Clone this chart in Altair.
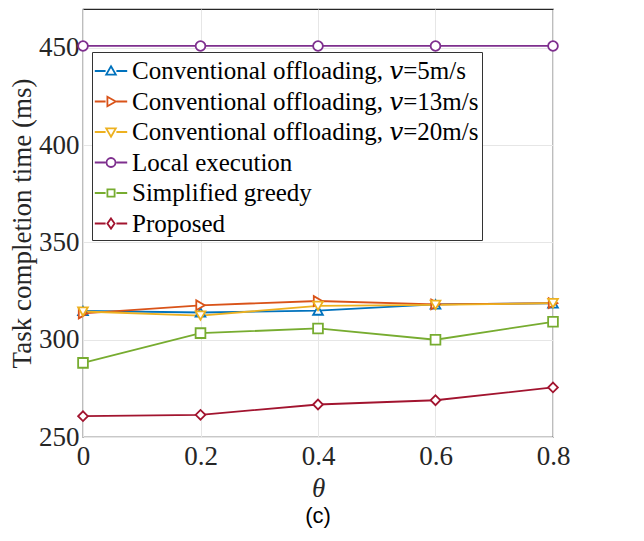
import altair as alt
import pandas as pd

theta = [0, 0.2, 0.4, 0.6, 0.8]
series_names = [
    "Conventional offloading, 𝑣=5m/s",
    "Conventional offloading, 𝑣=13m/s",
    "Conventional offloading, 𝑣=20m/s",
    "Local execution",
    "Simplified greedy",
    "Proposed",
]
conv_5 = [314.8, 314.0, 315.0, 318.2, 318.7]
conv_13 = [313.5, 317.7, 319.9, 318.2, 318.8]
conv_20 = [314.5, 312.4, 317.4, 317.9, 318.8]
local_exec = [451.0, 451.0, 451.0, 451.0, 451.0]
greedy = [288.1, 303.4, 305.8, 300.0, 309.2]
proposed = [260.7, 261.4, 266.7, 268.9, 275.5]

colors = ["#0072BD", "#D95319", "#EDB120", "#7E2F8E", "#77AC30", "#A2142F"]
marker_shapes = ["triangle-up", "triangle-right", "triangle-down", "circle", "square", "diamond"]
marker_sizes = [95, 95, 95, 80, 64, 80]
gap = "M-1.08,0H-0.36M0.36,0H1.08"
legend_shapes = [
    gap + "M0,-0.32L0.32,0.24L-0.32,0.24Z",
    gap + "M0.32,0L-0.24,-0.32L-0.24,0.32Z",
    gap + "M0,0.32L0.32,-0.24L-0.32,-0.24Z",
    gap + "M0.3,0A0.3,0.3 0 1 1 -0.3,0A0.3,0.3 0 1 1 0.3,0Z",
    gap + "M-0.24,-0.24H0.24V0.24H-0.24Z",
    gap + "M0,-0.34L0.24,0L0,0.34L-0.24,0Z",
]

all_vals = [conv_5, conv_13, conv_20, local_exec, greedy, proposed]
rows = []
for i, (name, vals) in enumerate(zip(series_names, all_vals)):
    for t, v in zip(theta, vals):
        rows.append({"theta": t, "time": v, "series": name, "series_l": name, "order": i})
df = pd.DataFrame(rows)

FONT = "Times New Roman, Liberation Serif, DejaVu Serif, serif"

x = alt.X("theta:Q", title="θ",
          scale=alt.Scale(domain=[0, 0.8], nice=False),
          axis=alt.Axis(values=theta, format="~g", labelFontSize=27, titleFontSize=27,
                        labelFont=FONT, titleFont=FONT, labelFlush=False,
                        titleFontStyle="italic", titleFontWeight="normal",
                        labelPadding=6, titlePadding=6))
y = alt.Y("time:Q", title="Task completion time (ms)",
          scale=alt.Scale(domain=[250, 470], nice=False),
          axis=alt.Axis(values=[250, 300, 350, 400, 450], labelFontSize=27, titleFontSize=27,
                        labelFont=FONT, titleFont=FONT, labelFlush=False,
                        titleFontWeight="normal", labelPadding=4, titlePadding=2))

color_scale = alt.Scale(domain=series_names, range=colors)

lines = alt.Chart(df).mark_line(strokeWidth=1.8).encode(
    x=x, y=y,
    color=alt.Color("series:N", scale=color_scale, legend=None),
    detail="series:N",
    order="order:Q",
)

points = alt.Chart(df).mark_point(filled=False, fill="white", fillOpacity=1, strokeWidth=1.8, opacity=1).encode(
    x=x, y=y,
    color=alt.Color("series:N", scale=color_scale, legend=None),
    shape=alt.Shape("series:N", scale=alt.Scale(domain=series_names, range=marker_shapes), legend=None),
    size=alt.Size("series:N", scale=alt.Scale(domain=series_names, range=marker_sizes), legend=None),
    order="order:Q",
)

legend_layer = alt.Chart(df).transform_filter("datum.theta < -1").mark_point(
    filled=False, size=900, strokeWidth=1.8, opacity=1
).encode(
    x=x, y=y,
    color=alt.Color("series_l:N", scale=alt.Scale(domain=series_names, range=colors),
                    legend=alt.Legend(title=None, orient="none", legendX=9, legendY=43,
                                      labelFont=FONT, labelFontSize=25, labelColor="#000000",
                                      symbolSize=900, symbolStrokeWidth=1.8,
                                      labelOffset=5, rowPadding=1.5, padding=3,
                                      strokeColor="#333333", fillColor="white",
                                      labelLimit=600)),
    shape=alt.Shape("series_l:N", scale=alt.Scale(domain=series_names, range=legend_shapes)),
)

chart = alt.layer(lines, points, legend_layer).resolve_scale(
    shape="independent", color="independent", size="independent"
).properties(
    width=470, height=428,
    autosize=alt.AutoSizeParams(type="none"),
    padding={"left": 75, "top": 1, "right": 83, "bottom": 96},
    title=alt.TitleParams("(c)", orient="bottom", font="Liberation Sans, Arial, sans-serif", fontSize=22,
                          fontWeight="normal", color="#000000", offset=5, anchor="middle"),
).configure(background="white").configure_view(stroke="#262626", strokeWidth=1.2).configure_axis(
    labelColor="#262626", titleColor="#262626",
    gridColor="#e6e6e6", gridWidth=1, domain=False, ticks=False,
)

chart.save("out.html", embed_options={"renderer": "svg", "actions": False})
